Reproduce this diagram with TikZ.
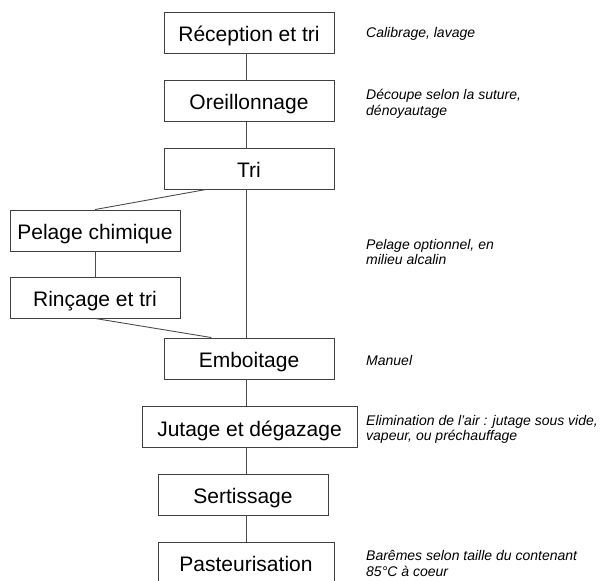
\documentclass[tikz,border=0pt]{standalone}
\usepackage{fontspec}
\setmainfont{Liberation Sans}
\usetikzlibrary{calc}

\begin{document}
\begin{tikzpicture}[x=1pt,y=-1pt,
    stepbox/.style={draw=black!75,line width=0.9pt,minimum width=170pt,minimum height=41pt,
      inner sep=0pt,text height=20pt,text depth=2pt,font=\fontsize{21}{25}\selectfont},
    note/.style={anchor=west,align=left,inner sep=0pt,font=\fontsize{14}{15.7}\selectfont\itshape},
    link/.style={draw=black!70,line width=0.9pt}]
    \useasboundingbox (0,0) rectangle (601,580);
    \coordinate (spine) at (246,0);
    % main chain
    \node[stepbox] (rec) at (249,32.5) {Réception et tri};
    \node[stepbox] (ore) at (249,101) {Oreillonnage};
    \node[stepbox] (tri) at (249,168.5) {Tri};
    \node[stepbox] (emb) at (249,358.5) {Emboitage};
    \node[stepbox,minimum width=215pt] (jut) at (249.5,427) {Jutage et dégazage};
    \node[stepbox] (ser) at (243,494.5) {Sertissage};
    \node[stepbox,minimum width=176pt] (pas) at (246,562.5) {Pasteurisation};
    % side branch
    \node[stepbox] (pel) at (95,230.5) {Pelage chimique};
    \node[stepbox] (rin) at (95,297.5) {Rinçage et tri};
    % notes
    \node[note] (nrec) at (366,34) {Calibrage, lavage};
    \node[note] (nore) at (366,104) {Découpe selon la suture,\\dénoyautage};
    \node[note] (npel) at (366,252) {Pelage optionnel, en\\milieu alcalin};
    \node[note] (nemb) at (366,360) {Manuel};
    \node[note] (njut) at (366,429.5) {Elimination de l’air : jutage sous vide,\\vapeur, ou préchauffage};
    \node[note] (npas) at (366,563.5) {Barêmes selon taille du contenant\\85°C à coeur};
    % connectors
    \draw[link] (rec.south -| spine) -- (ore.north -| spine);
    \draw[link] (ore.south -| spine) -- (tri.north -| spine);
    \draw[link] (tri.south -| spine) -- (emb.north -| spine);
    \draw[link] (emb.south -| spine) -- (jut.north -| spine);
    \draw[link] (jut.south -| spine) -- (ser.north -| spine);
    \draw[link] (ser.south -| spine) -- (pas.north -| spine);
    \draw[link] ($(tri.south west)!0.25!(tri.south east)$) -- (pel.north);
    \draw[link] (pel.south) -- (rin.north);
    \draw[link] (rin.south) -- ($(emb.north west)!0.28!(emb.north east)$);
\end{tikzpicture}
\end{document}
